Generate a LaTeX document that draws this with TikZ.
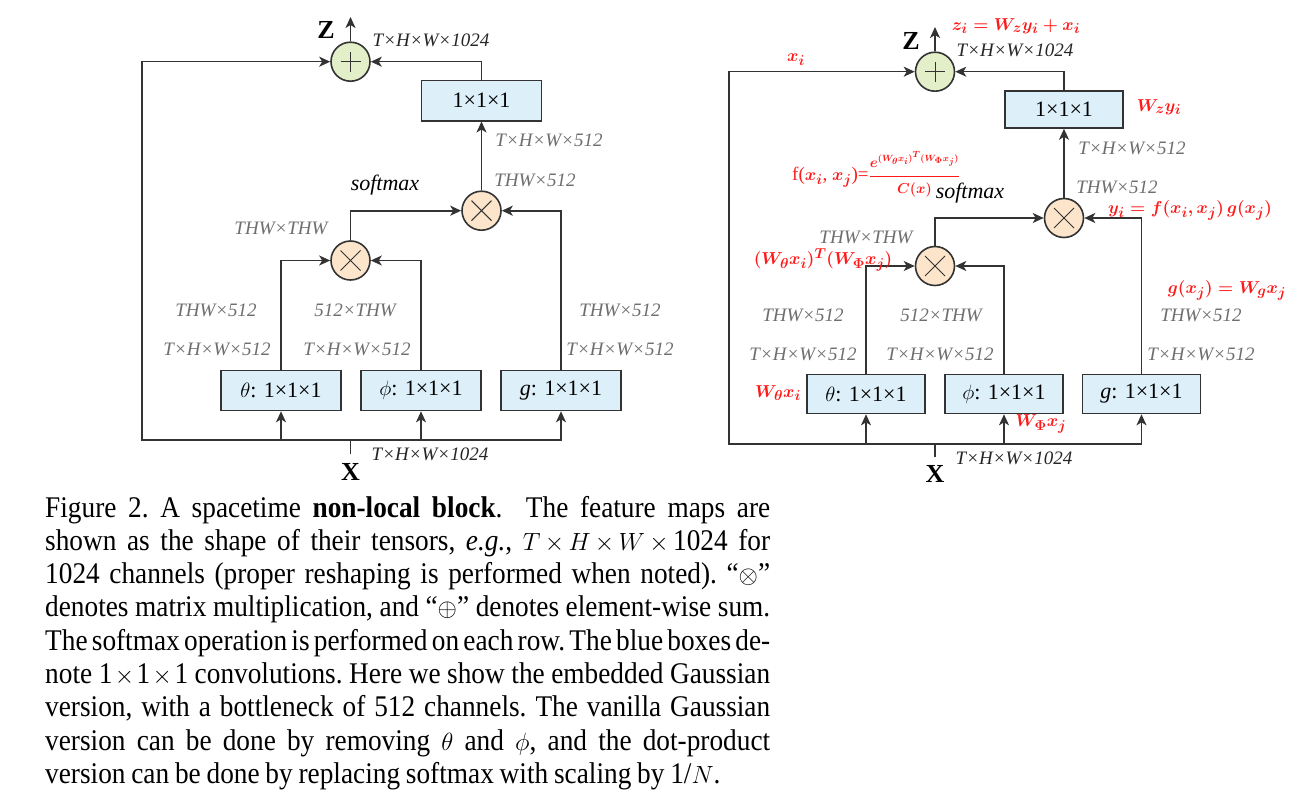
\documentclass[tikz,border=0pt]{standalone}
\usepackage{fontspec}
\setmainfont{Liberation Serif}
\newfontfamily\capfont[Ligatures=TeX, FakeStretch=0.91, WordSpace=0.85]{Liberation Serif}
\usetikzlibrary{arrows.meta}
\definecolor{ln}{HTML}{333333}
\definecolor{gtxt}{HTML}{6E6E6E}
\definecolor{dtxt}{HTML}{262626}
\definecolor{boxfill}{HTML}{DDF0FA}
\definecolor{plusfill}{HTML}{E3EFC9}
\definecolor{mulfill}{HTML}{FCE5CB}
\definecolor{redtxt}{HTML}{FF1A1A}
\newcommand{\capline}[1]{\makebox[725pt][s]{#1}}
\newcommand{\tdim}[1]{{\medmuskip=1.5mu plus 1mu minus 1mu $#1$}}
\begin{document}
\begin{tikzpicture}[x=1pt,y=-1pt,
  conv/.style={draw=ln, line width=1.6pt, fill=boxfill, minimum width=120pt, minimum height=40pt, inner sep=0pt, font=\fontsize{22}{22}\selectfont},
  opnode/.style={draw=ln, line width=1.6pt, circle, minimum size=39pt, inner sep=0pt},
  plusop/.style={opnode, fill=plusfill, path picture={\draw[line width=1pt, ln]
      ([xshift=-10pt]path picture bounding box.center) -- ([xshift=10pt]path picture bounding box.center)
      ([yshift=-10pt]path picture bounding box.center) -- ([yshift=10pt]path picture bounding box.center);}},
  mulop/.style={opnode, fill=mulfill, path picture={\draw[line width=1pt, ln]
      ([shift={(-10pt,-10pt)}]path picture bounding box.center) -- ([shift={(10pt,10pt)}]path picture bounding box.center)
      ([shift={(-10pt,10pt)}]path picture bounding box.center) -- ([shift={(10pt,-10pt)}]path picture bounding box.center);}},
  wire/.style={draw=ln, line width=1.6pt},
  arr/.style={wire, -{Stealth[length=11pt,width=10pt,inset=3pt]}},
  dim/.style={text=gtxt, font=\fontsize{19}{19}\selectfont\itshape, inner sep=0pt},
  dimk/.style={text=dtxt, font=\fontsize{19}{19}\selectfont\itshape, inner sep=0pt},
  bigl/.style={font=\fontsize{26}{26}\selectfont\bfseries, inner sep=0pt},
  soft/.style={font=\fontsize{22}{22}\selectfont\itshape, inner sep=0pt},
  redlab/.style={text=redtxt, font=\fontsize{19}{19}\selectfont\boldmath, inner sep=0pt},
  capl/.style={anchor=base west, inner sep=0pt, font=\capfont\fontsize{30}{33}\selectfont\frenchspacing}
]
\useasboundingbox (0,0) rectangle (1296,800);
\fill[white] (0,0) rectangle (1296,800);

% ================= LEFT DIAGRAM =================
\node[plusop] (p1) at (350.5,61.7) {};
\node[conv] (b1) at (481.5,100.7) {1×1×1};
\node[mulop] (o2) at (481.5,210.7) {};
\node[mulop] (o1) at (350.5,260.5) {};
\node[conv] (th) at (281,390.5) {$\theta$: 1×1×1};
\node[conv] (ph) at (421,390.5) {$\phi$: 1×1×1};
\node[conv] (gg) at (561,390.5) {\textit{g}: 1×1×1};
\coordinate (zout) at (350.5,17);
\coordinate (xin) at (350.5,440);
\coordinate (xbot) at (350.5,454);
\coordinate (lc) at (142,440);

\draw[wire] (xbot) -- (xin);
\draw[arr] (xin) -| (th.south);
\draw[arr] (xin) -| (ph.south);
\draw[arr] (xin) -| (gg.south);
\draw[arr] (xin) -- (lc) |- (p1.west);
\draw[arr] (th.north) |- (o1.west);
\draw[arr] (ph.north) |- (o1.east);
\draw[arr] (o1.north) |- (o2.west);
\draw[arr] (gg.north) |- (o2.east);
\draw[arr] (o2.north) -- (b1.south);
\draw[arr] (b1.north) |- (p1.east);
\draw[arr] (p1.north) -- (zout);

\node[bigl] (zl) at (326,30) {Z};
\node[bigl] (xl) at (350.5,472) {X};
\node[dimk] (d1) at (431,40) {T×H×W×1024};
\node[dim] (d2) at (549,140) {T×H×W×512};
\node[dim] (d3) at (535,180) {THW×512};
\node[soft] (sm) at (385,185) {softmax};
\node[dim] (d4) at (281,228) {THW×THW};
\node[dim] (d5) at (216,310) {THW×512};
\node[dim] (d6) at (355,310) {512×THW};
\node[dim] (d7) at (620,310) {THW×512};
\node[dim] (d8) at (217,349) {T×H×W×512};
\node[dim] (d9) at (357,349) {T×H×W×512};
\node[dim] (d10) at (620,349) {T×H×W×512};
\node[dimk] (d11) at (430,454) {T×H×W×1024};

% ================= RIGHT DIAGRAM =================
\node[plusop] (rp1) at (935,71.7) {};
\node[conv, minimum width=118pt, minimum height=37pt] (rb1) at (1064,109.5) {1×1×1};
\node[mulop] (ro2) at (1064,218) {};
\node[mulop] (ro1) at (935,266) {};
\node[conv, minimum width=118pt, minimum height=39pt] (rth) at (866,394) {$\theta$: 1×1×1};
\node[conv, minimum width=118pt, minimum height=39pt] (rph) at (1004,394) {$\phi$: 1×1×1};
\node[conv, minimum width=118pt, minimum height=39pt] (rgg) at (1141.5,394) {\textit{g}: 1×1×1};
\coordinate (rzout) at (935,27);
\coordinate (rxin) at (935,444);
\coordinate (rxbot) at (935,457);
\coordinate (rlc) at (729,444);

\draw[wire] (rxbot) -- (rxin);
\draw[arr] (rxin) -| (rth.south);
\draw[arr] (rxin) -| (rph.south);
\draw[arr] (rxin) -| (rgg.south);
\draw[arr] (rxin) -- (rlc) |- (rp1.west);
\draw[arr] (rth.north) |- (ro1.west);
\draw[arr] (rph.north) |- (ro1.east);
\draw[arr] (ro1.north) |- (ro2.west);
\draw[arr] (rgg.north) |- (ro2.east);
\draw[arr] (ro2.north) -- (rb1.south);
\draw[arr] (rb1.north) |- (rp1.east);
\draw[arr] (rp1.north) -- (rzout);

\node[bigl] (rzl) at (911,41) {Z};
\node[bigl] (rxl) at (935,474) {X};
\node[dimk] (rd1) at (1015,50) {T×H×W×1024};
\node[dim] (rd2) at (1132,148) {T×H×W×512};
\node[dim] (rd3) at (1117,187) {THW×512};
\node[soft] (rsm) at (970,193) {softmax};
\node[dim] (rd4) at (866,237) {THW×THW};
\node[dim] (rd5) at (803,315) {THW×512};
\node[dim] (rd6) at (941,315) {512×THW};
\node[dim] (rd7) at (1201,315) {THW×512};
\node[dim] (rd8) at (803,354) {T×H×W×512};
\node[dim] (rd9) at (940,354) {T×H×W×512};
\node[dim] (rd10) at (1201,354) {T×H×W×512};
\node[dimk] (rd11) at (1014,458) {T×H×W×1024};

% red annotations
\node[redlab] (r1) at (1016,26) {$z_i = W_z y_i + x_i$};
\node[redlab] (r2) at (796,60) {$x_i$};
\node[redlab] (r3) at (1159,107) {$W_z y_i$};
\node[redlab, anchor=west] (r4) at (792,174) {f($x_i$, $x_j$)=$\displaystyle\frac{\scriptstyle e^{(W_\theta x_i)^T(W_\Phi x_j)}}{\scriptstyle C(x)}$};
\node[redlab] (r5) at (1190,210) {$y_i = f(x_i, x_j)\,g(x_j)$};
\node[redlab] (r6) at (823,260) {$(W_\theta x_i)^T(W_\Phi x_j)$};
\node[redlab] (r7) at (1227,290) {$g(x_j) = W_g x_j$};
\node[redlab] (r8) at (778,393) {$W_\theta x_i$};
\node[redlab] (r9) at (1041,424) {$W_\Phi x_j$};

% ================= CAPTION =================
\node[capl] (c1) at (45,517) {\capline{Figure 2. A spacetime \textbf{non-local block}.\ \ The feature maps are}};
\node[capl] (c2) at (45,550.3) {\capline{shown as the shape of their tensors, \textit{e.g.}, \tdim{T\times H\times W\times\mbox{1024}} for}};
\node[capl] (c3) at (45,583.6) {\capline{1024 channels (proper reshaping is performed when noted). ``$\otimes$''}};
\node[capl] (c4) at (45,616.9) {\capline{denotes matrix multiplication, and ``$\oplus$'' denotes element-wise sum.}};
\node[capl] (c5) at (45,650.2) {\capline{The softmax operation is performed on each row. The blue boxes de-}};
\node[capl] (c6) at (45,683.5) {\capline{note \tdim{\mbox{1}\times\mbox{1}\times\mbox{1}} convolutions. Here we show the embedded Gaussian}};
\node[capl] (c7) at (45,716.8) {\capline{version, with a bottleneck of 512 channels. The vanilla Gaussian}};
\node[capl] (c8) at (45,750.1) {\capline{version can be done by removing $\theta$ and $\phi$, and the dot-product}};
\node[capl] (c9) at (45,783.4) {version can be done by replacing softmax with scaling by \mbox{1}/$N$.};
\end{tikzpicture}
\end{document}
